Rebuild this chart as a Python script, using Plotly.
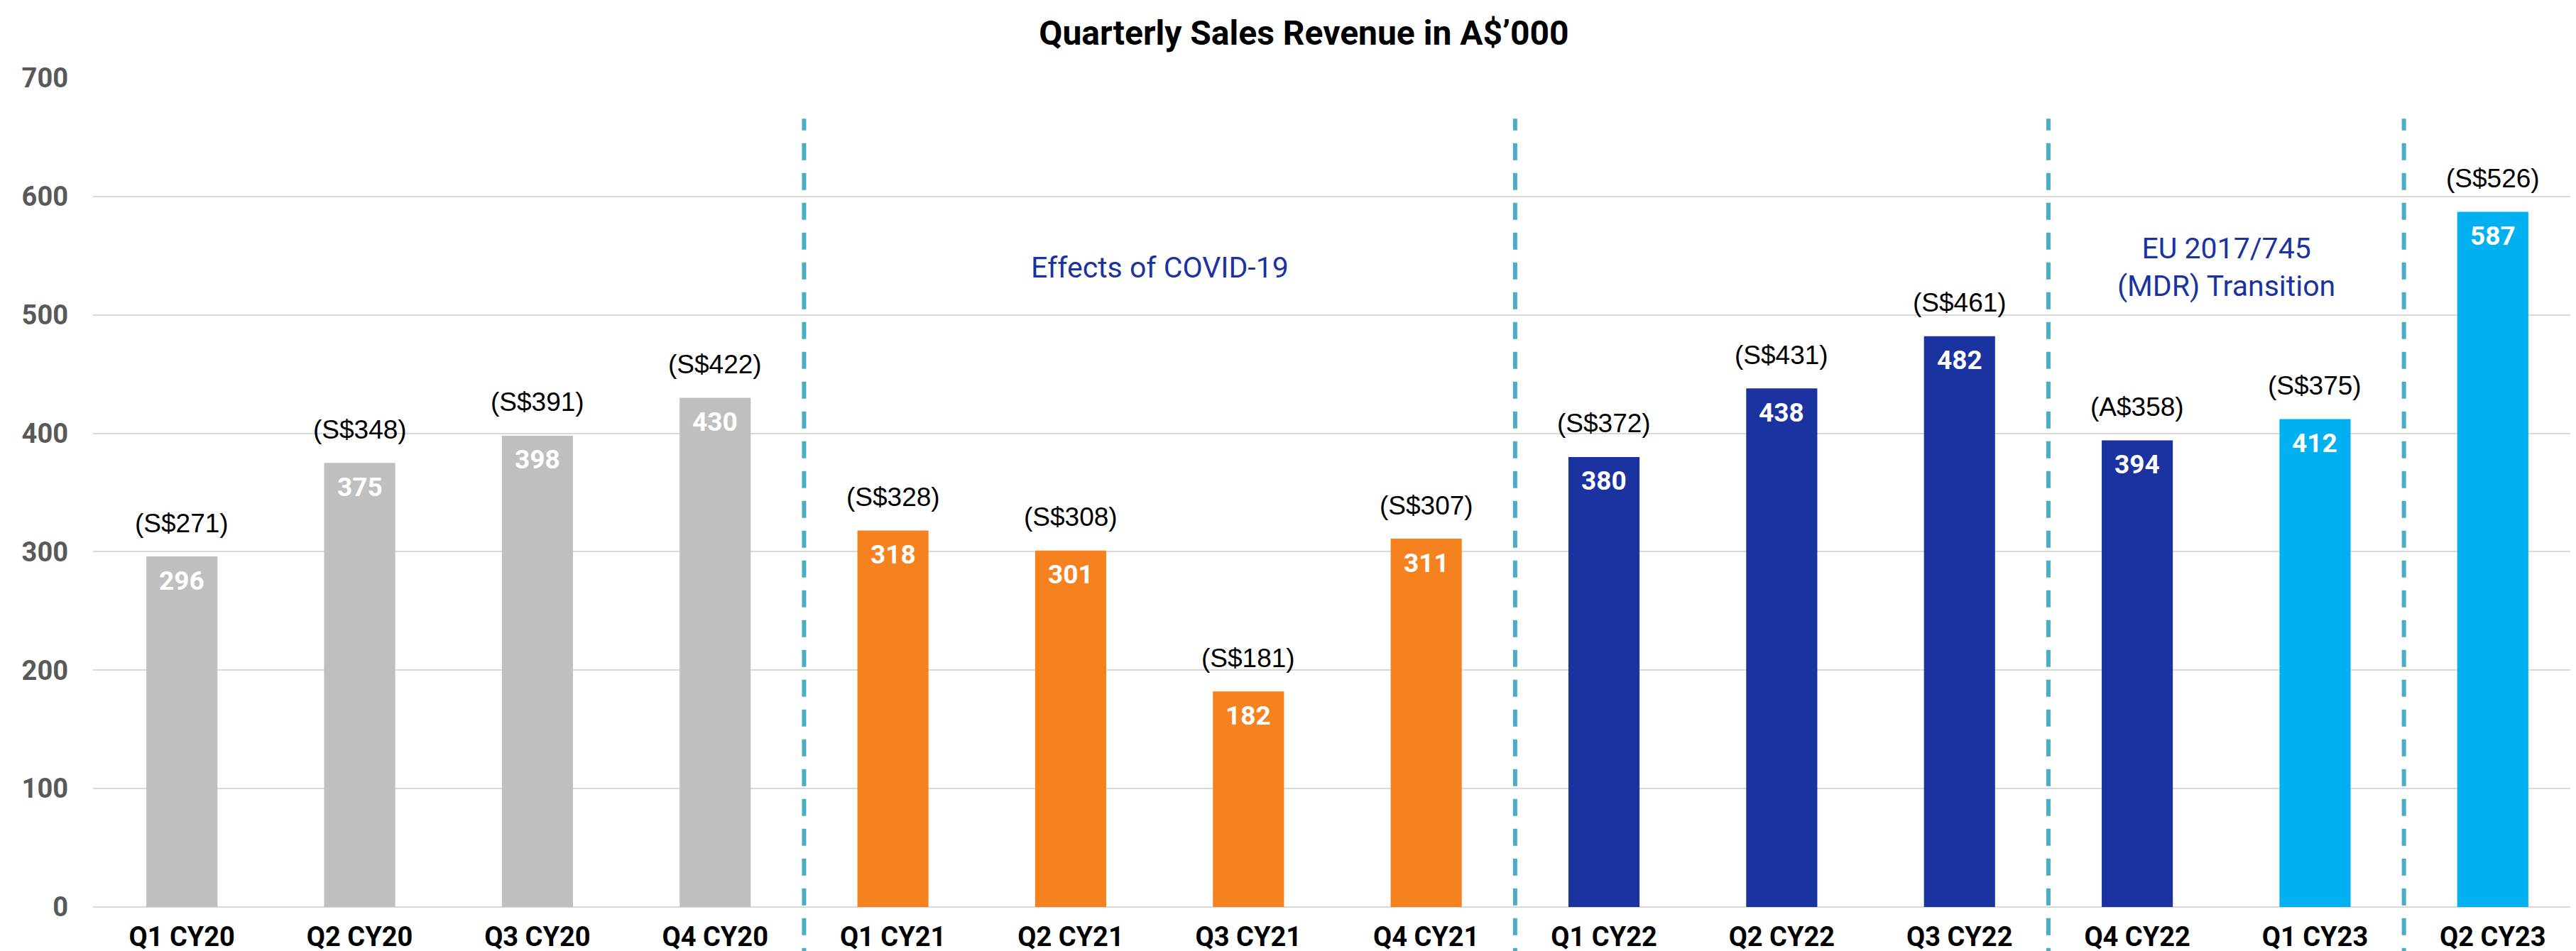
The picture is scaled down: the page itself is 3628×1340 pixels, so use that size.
import plotly.graph_objects as go

categories = ["Q1 CY20", "Q2 CY20", "Q3 CY20", "Q4 CY20",
              "Q1 CY21", "Q2 CY21", "Q3 CY21", "Q4 CY21",
              "Q1 CY22", "Q2 CY22", "Q3 CY22", "Q4 CY22",
              "Q1 CY23", "Q2 CY23"]
revenue_aud = [296, 375, 398, 430, 318, 301, 182, 311, 380, 438, 482, 394, 412, 587]
revenue_sgd_labels = ["(S$271)", "(S$348)", "(S$391)", "(S$422)",
                      "(S$328)", "(S$308)", "(S$181)", "(S$307)",
                      "(S$372)", "(S$431)", "(S$461)", "(A$358)",
                      "(S$375)", "(S$526)"]
group_of_bar = ["pre", "pre", "pre", "pre",
                "covid", "covid", "covid", "covid",
                "growth", "growth", "growth", "growth",
                "mdr", "mdr"]
group_colors = {"pre": "#BFBFBF", "covid": "#F5821F", "growth": "#1B33A0", "mdr": "#00B0F0"}
divider_positions = [3.5, 7.5, 10.5, 12.5]
period_notes = [("Effects of COVID-19", 5.5, 540),
                ("EU 2017/745<br>(MDR) Transition", 11.5, 540)]
y_ticks = [0, 100, 200, 300, 400, 500, 600, 700]

fig = go.Figure()
fig.add_trace(go.Bar(
    x=categories, y=revenue_aud,
    marker=dict(color=[group_colors[g] for g in group_of_bar], line=dict(width=0)),
    width=0.4, hoverinfo="x+y", showlegend=False,
))

annotations = []
for c, v, s in zip(categories, revenue_aud, revenue_sgd_labels):
    annotations.append(dict(x=c, y=v, xref="x", yref="y", text=s, showarrow=False,
                            yanchor="middle", yshift=47,
                            font=dict(family="Liberation Sans, Arial", size=37, color="#000000")))
    annotations.append(dict(x=c, y=v, xref="x", yref="y", text=f"<b>{v}</b>", showarrow=False,
                            yanchor="middle", yshift=-34,
                            font=dict(family="Roboto", size=37, color="#FFFFFF")))
for txt, xpos, ypos in period_notes:
    annotations.append(dict(x=xpos, y=ypos, xref="x", yref="y", text=txt, showarrow=False,
                            xanchor="center", yanchor="middle",
                            font=dict(family="Roboto", size=41, color="#1B33A0")))

shapes = []
for d in divider_positions:
    shapes.append(dict(type="line", xref="x", yref="paper", x0=d, x1=d, y0=-0.07, y1=0.951,
                       line=dict(color="#4BACC6", width=6, dash="24px,18px"), layer="above"))

fig.update_layout(
    width=3628, height=1340,
    margin=dict(l=123, r=0, t=102, b=70, autoexpand=False),
    paper_bgcolor="white", plot_bgcolor="white",
    title=dict(text="<b>Quarterly Sales Revenue in A$’000</b>", x=0.504, xanchor="center",
               y=1 - 38 / 1340, yanchor="middle",
               font=dict(family="Roboto", size=48, color="#000000")),
    xaxis=dict(type="category", categoryorder="array", categoryarray=categories,
               range=[-0.5, 13.5], showgrid=False, zeroline=False, showline=False,
               ticks="", ticklabelstandoff=16, automargin=False,
               tickfont=dict(family="Roboto", size=38, color="#000000"),
               tickvals=categories, ticktext=[f"<b>{c}</b>" for c in categories]),
    yaxis=dict(range=[0, 700], tickvals=y_ticks, ticktext=[f"<b>{t}</b>" for t in y_ticks],
               showgrid=True, gridcolor="#D9D9D9", gridwidth=2,
               zeroline=True, zerolinecolor="#D9D9D9", zerolinewidth=2,
               showline=False, ticks="", ticklabelstandoff=34, automargin=False,
               tickfont=dict(family="Roboto", size=38, color="#595959")),
    annotations=annotations,
    shapes=shapes,
    bargap=0.6,
)

fig.write_html("out.html")
